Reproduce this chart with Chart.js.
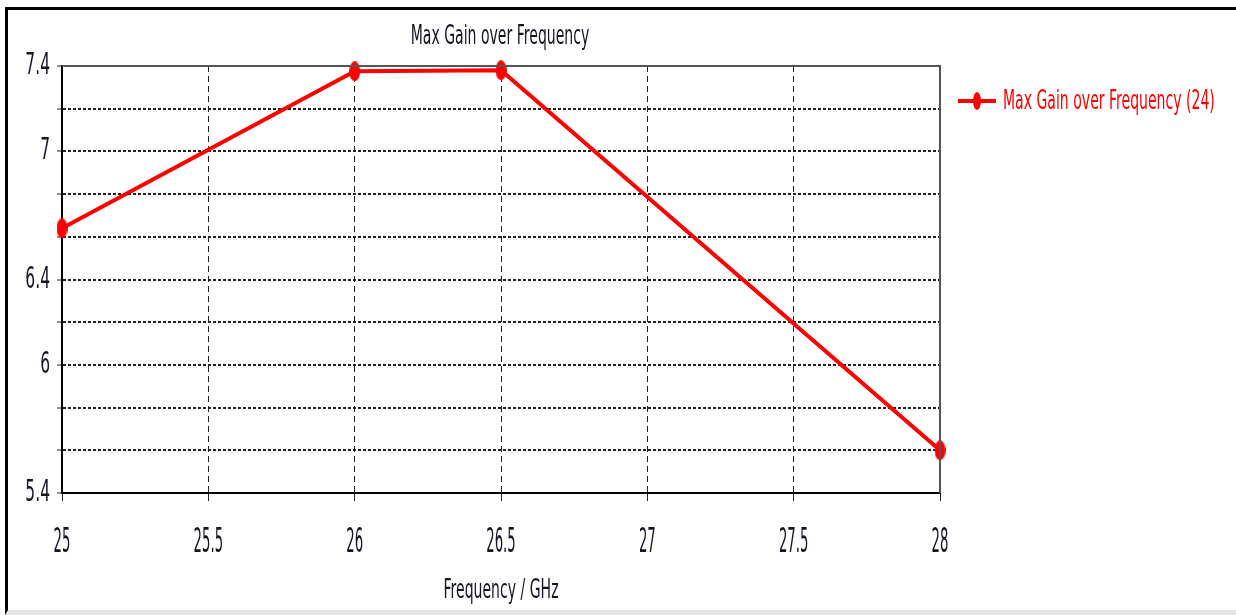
<!DOCTYPE html>
<html>
<head>
<meta charset="utf-8">
<title>Max Gain over Frequency</title>
<script src="https://cdn.jsdelivr.net/npm/chart.js@4/dist/chart.umd.min.js"></script>
<style>
    html, body { margin: 0; padding: 0; background: #fff; }
    #wrap {
        position: relative;
        width: 1236px;
        height: 615px;
        overflow: hidden;
    }
    #frame {
        position: absolute;
        left: 5px; top: 7px; right: 0; bottom: 0;
        border-top: 3px solid #000;
        border-left: 3px solid #000;
        border-bottom: 5px solid #e4e4e4;
        pointer-events: none;
    }
    canvas { position: absolute; left: 0; top: 0; }
</style>
</head>
<body>
<div id="wrap">
    <canvas id="gainChart" width="1236" height="615"></canvas>
    <div id="frame"></div>
</div>
<script>
// Chart data
const chartTitle = 'Max Gain over Frequency';
const seriesLabel = 'Max Gain over Frequency (24)';
const xAxisTitle = 'Frequency / GHz';
const frequencies = [25, 26, 26.5, 28];
const maxGain = [6.64, 7.375, 7.38, 5.6];
const yTickLabels = [5.4, 6, 6.4, 7, 7.4];

const FONT = "'DejaVu Sans', Verdana, sans-serif";
const RED = '#ff0000';
const TEXT = '#141423';

// The original uses a tall, squeezed font - narrow the canvas text horizontally,
// by how much depends on the font size (x ticks are the narrowest)
const TEXT_SCALE = { 34: 0.39, 31: 0.5, 26: 0.54 };
function scaleFor(font) {
    const m = /(\d+)px/.exec(font);
    return (m && TEXT_SCALE[m[1]]) || 1;
}
function condenseText(ctx) {
    const fill = ctx.fillText.bind(ctx);
    const measure = ctx.measureText.bind(ctx);
    ctx.fillText = function (text, x, y) {
        const s = scaleFor(ctx.font);
        ctx.save();
        ctx.translate(x, y);
        ctx.scale(s, 1);
        fill(text, 0, 0);
        ctx.restore();
    };
    ctx.measureText = function (text) {
        const s = scaleFor(ctx.font);
        const m = measure(text);
        return {
            width: m.width * s,
            actualBoundingBoxAscent: m.actualBoundingBoxAscent,
            actualBoundingBoxDescent: m.actualBoundingBoxDescent,
            actualBoundingBoxLeft: m.actualBoundingBoxLeft * s,
            actualBoundingBoxRight: m.actualBoundingBoxRight * s
        };
    };
}

// Tall ellipse marker, like the original plot
function makeMarker(w, h) {
    const c = document.createElement('canvas');
    c.width = w;
    c.height = h;
    const g = c.getContext('2d');
    g.fillStyle = RED;
    g.beginPath();
    g.ellipse(w / 2, h / 2, w / 2, h / 2, 0, 0, Math.PI * 2);
    g.fill();
    return c;
}
const pointMarker = makeMarker(11, 20);
const legendMarker = makeMarker(8, 18);

// Title, plot frame and legend
const decorations = {
    id: 'decorations',
    afterDraw(chart) {
        const { ctx, chartArea } = chart;
        ctx.save();

        // top + right frame of the plot
        ctx.strokeStyle = '#555';
        ctx.lineWidth = 2;
        ctx.beginPath();
        ctx.moveTo(chartArea.left, chartArea.top);
        ctx.lineTo(chartArea.right, chartArea.top);
        ctx.lineTo(chartArea.right, chartArea.bottom);
        ctx.stroke();

        // title
        ctx.fillStyle = TEXT;
        ctx.font = `26px ${FONT}`;
        ctx.textAlign = 'center';
        ctx.textBaseline = 'middle';
        ctx.fillText(chartTitle, 500, 37);

        // legend
        const ly = 101;
        ctx.strokeStyle = RED;
        ctx.lineWidth = 4;
        ctx.beginPath();
        ctx.moveTo(958, ly);
        ctx.lineTo(996, ly);
        ctx.stroke();
        ctx.drawImage(legendMarker, 977 - 4, ly - 9);
        ctx.fillStyle = RED;
        ctx.font = `26px ${FONT}`;
        ctx.textAlign = 'left';
        ctx.fillText(chart.data.datasets[0].label, 1003, ly + 1);

        ctx.restore();
    }
};

const ctx = document.getElementById('gainChart').getContext('2d');
condenseText(ctx);

new Chart(ctx, {
    type: 'line',
    data: {
        datasets: [{
            label: seriesLabel,
            data: frequencies.map((f, i) => ({ x: f, y: maxGain[i] })),
            borderColor: RED,
            backgroundColor: RED,
            borderWidth: 4,
            pointStyle: pointMarker,
            pointRadius: 8,
            tension: 0,
            clip: false
        }]
    },
    options: {
        responsive: false,
        animation: false,
        devicePixelRatio: 1,
        layout: {
            padding: { top: 66, left: 0, right: 296, bottom: 0 }
        },
        plugins: {
            legend: { display: false },
            title: { display: false },
            tooltip: { enabled: false }
        },
        scales: {
            x: {
                type: 'linear',
                min: 25,
                max: 28,
                afterFit: (scale) => { scale.height = 122; },
                ticks: {
                    stepSize: 0.5,
                    color: TEXT,
                    padding: 22,
                    font: { family: FONT, size: 34 },
                    maxRotation: 0,
                    callback: (value) => String(value)
                },
                grid: {
                    color: '#222',
                    lineWidth: 1,
                    tickLength: 8,
                    tickColor: '#222'
                },
                border: {
                    color: '#000',
                    width: 2,
                    dash: [6, 4]
                },
                title: {
                    display: true,
                    text: xAxisTitle,
                    color: TEXT,
                    font: { family: FONT, size: 26 },
                    padding: { top: 0, bottom: 8 }
                }
            },
            y: {
                min: 5.4,
                max: 7.4,
                afterFit: (scale) => { scale.width = 62; },
                ticks: {
                    stepSize: 0.2,
                    color: TEXT,
                    padding: 7,
                    font: { family: FONT, size: 31 },
                    callback: (value) => yTickLabels.some(v => Math.abs(v - value) < 1e-6) ? String(value) : ''
                },
                grid: {
                    color: '#222',
                    lineWidth: 2,
                    tickLength: 5,
                    tickColor: '#222',
                    tickWidth: 1
                },
                border: {
                    color: '#000',
                    width: 2,
                    dash: [3, 2]
                }
            }
        }
    },
    plugins: [decorations]
});
</script>
</body>
</html>
